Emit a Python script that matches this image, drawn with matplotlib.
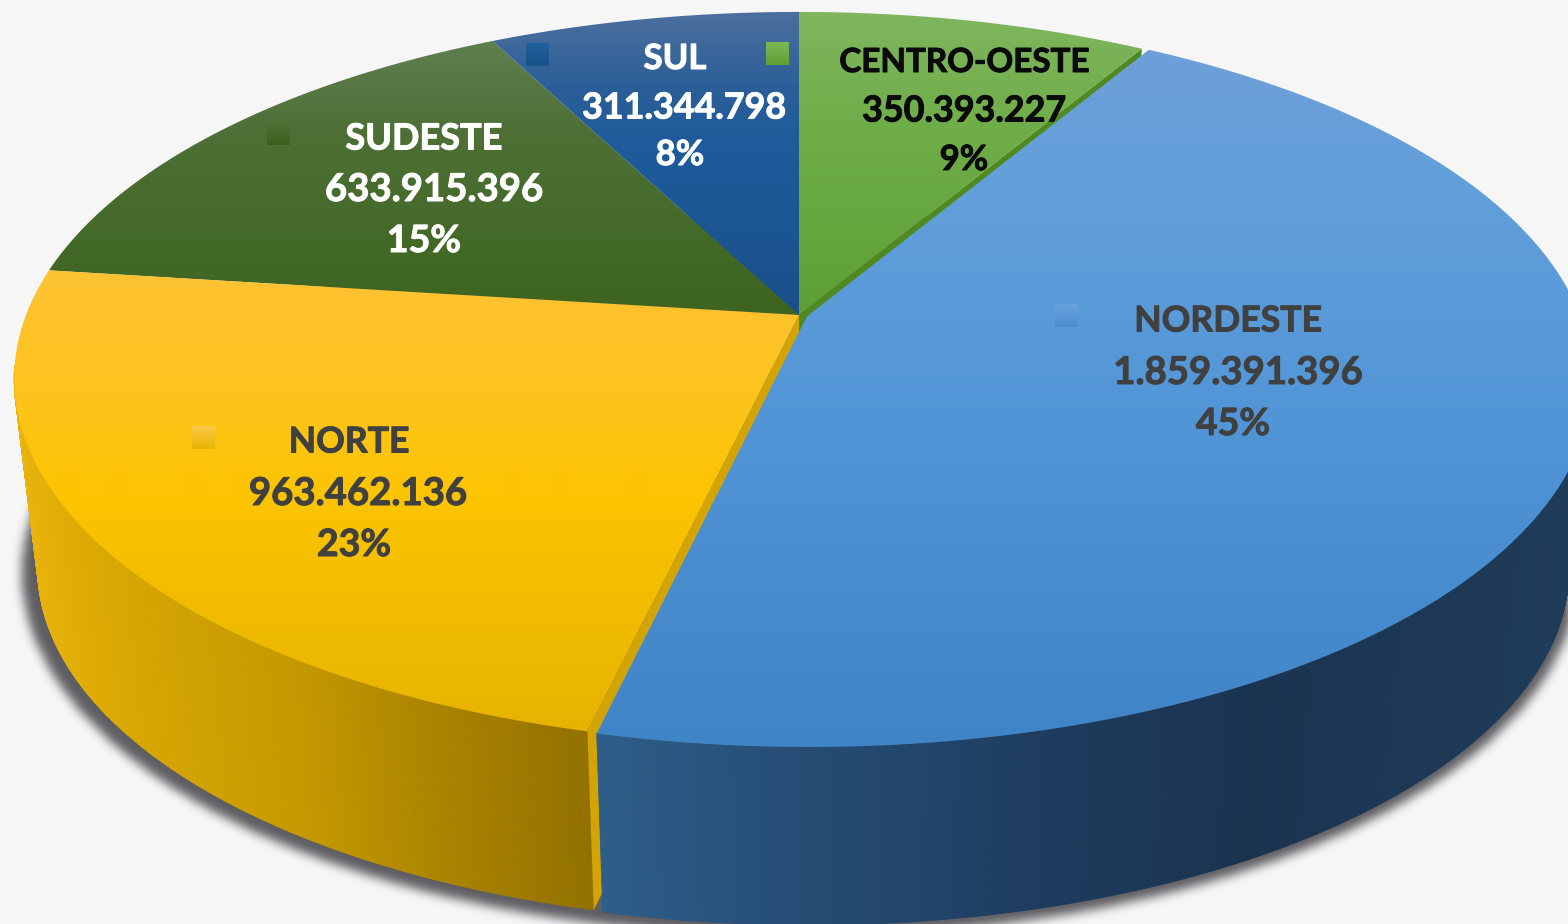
import numpy as np
import matplotlib
matplotlib.use("Agg")
import matplotlib.pyplot as plt
import matplotlib.patheffects as pe
from matplotlib.path import Path
from matplotlib.patches import PathPatch
from matplotlib.collections import PolyCollection
from matplotlib.colors import to_rgb

# ---- data -------------------------------------------------------------
regions = ["CENTRO-OESTE", "NORDESTE", "NORTE", "SUDESTE", "SUL"]
values = [350393227, 1859391396, 963462136, 633915396, 311344798]

# ---- style / layout ---------------------------------------------------
W, H = 1568, 924
APEX = (799.0, 315.0)
A, B, K = 773.0, 355.5, 0.173        # perspective disc
LOW_S, LOW_DY = 0.97, 191.0          # lower rim of the disc
EXPLODE = {"NORDESTE": 0.011}

top_grad = {
    "CENTRO-OESTE": [(12, "#7fb65e"), (120, "#70ae4a"), (315, "#5da034")],
    "NORDESTE": [(50, "#6ea0d8"), (200, "#619fdb"), (450, "#5094d6"), (745, "#3f84c6")],
    "NORTE": [(270, "#fec232"), (400, "#fdc41c"), (500, "#fcc400"), (735, "#e5b300")],
    "SUDESTE": [(42, "#5f7f50"), (130, "#4e7036"), (310, "#3d651f")],
    "SUL": [(12, "#4c6f9e"), (90, "#2a5e98"), (150, "#1d5b9b"), (315, "#1a5089")],
}
wall_grad = {
    "NORDESTE": [(596, "#2d5e8a"), (800, "#264d75"), (1050, "#1e3c5e"), (1250, "#1a3450"), (1570, "#1f3c59")],
    "NORTE": [(14, "#eab40e"), (100, "#dcaa03"), (300, "#c69a00"), (450, "#aa8300"), (590, "#937200")],
}
cut_color = {"CENTRO-OESTE": "#4f8a20", "NORTE": "#d2a406"}
text_color = {"CENTRO-OESTE": "#0a0a0a", "NORDESTE": "#404040", "NORTE": "#404040",
              "SUDESTE": "#ffffff", "SUL": "#ffffff"}
# label rows: (x, y) of name, value, percent
label_pos = {
    "CENTRO-OESTE": [(964, 60), (964, 108), (964, 157)],
    "NORDESTE": [(1228, 318), (1238, 370), (1233, 421)],
    "NORTE": [(349, 439), (358, 491), (354, 542)],
    "SUDESTE": [(424, 136), (434, 187), (424, 238)],
    "SUL": [(675, 56), (684, 105), (680, 152)],
}
label_size = {"CENTRO-OESTE": (23.9, 25.8, 25), "NORDESTE": (25.6, 27.6, 27), "NORTE": (25.6, 27.6, 27),
              "SUDESTE": (26, 27.6, 27), "SUL": (25, 25.8, 25)}
key_pos = {"CENTRO-OESTE": (766, 42), "NORDESTE": (1055, 304), "NORTE": (192, 426),
           "SUDESTE": (267, 122), "SUL": (526, 43)}
key_grad = {
    "CENTRO-OESTE": ["#7db956", "#609f33"],
    "NORDESTE": ["#6ba3df", "#4a8dcf"],
    "NORTE": ["#fdc84a", "#e8b400"],
    "SUDESTE": ["#4f7236", "#3b611e"],
    "SUL": ["#22609e", "#1a5289"],
}

total = sum(values)
cum = np.cumsum([0] + values) / total * 2 * np.pi
spans = {r: (cum[i], cum[i + 1]) for i, r in enumerate(regions)}


def project(theta, radius=1.0, level=0, explode=0.0, mid=0.0):
    """Disc coordinates (clockwise from the top) to canvas coordinates."""
    theta = np.asarray(theta, float)
    u = radius * np.sin(theta) + explode * np.sin(mid)
    v = radius * np.cos(theta) + explode * np.cos(mid)
    w = 1 + K * v
    s = LOW_S if level else 1.0
    dy = LOW_DY if level else 0.0
    return APEX[0] + s * A * u / w, APEX[1] + dy - s * B * v / w


def ramp(stops, n, lo=0):
    pos = [p for p, _ in stops]
    cols = np.array([to_rgb(c) for _, c in stops])
    grid = np.arange(n) + lo + 0.5
    return np.stack([np.interp(grid, pos, cols[:, i]) for i in range(3)], axis=1)


fig = plt.figure(figsize=(W / 100, H / 100), dpi=100, facecolor="#f6f6f7")
ax = fig.add_axes([0, 0, 1, 1])
ax.set_facecolor("#f6f6f7")
ax.axis("off")


def fill_top(verts, stops, z):
    img = ramp(stops, H)[:, None, :]
    im = ax.imshow(img, extent=(0, W, H, 0), aspect="auto", zorder=z, interpolation="bilinear")
    verts = np.asarray(verts)
    codes = [Path.MOVETO] + [Path.LINETO] * (len(verts) - 2) + [Path.CLOSEPOLY]
    patch = PathPatch(Path(verts, codes), transform=ax.transData, fc="none", ec="none")
    ax.add_patch(patch)
    im.set_clip_path(patch)


def wedge_top(region, z):
    a, b = spans[region]
    mid = (a + b) / 2
    ex = EXPLODE.get(region, 0.0)
    t = np.linspace(a, b, 300)
    x, y = project(t, explode=ex, mid=mid)
    ax0, ay0 = project(0.0, radius=0.0, explode=ex, mid=mid)
    verts = np.vstack([[ax0, ay0], np.column_stack([x, y]), [ax0, ay0]])
    fill_top(verts, top_grad[region], z)


def wall(region, a, b, z, n=500):
    mid = sum(spans[region]) / 2
    ex = EXPLODE.get(region, 0.0)
    t = np.linspace(a, b, n)
    xt, yt = project(t, explode=ex, mid=mid)
    xb, yb = project(t, level=1, explode=ex, mid=mid)
    polys, cols = [], []
    g = ramp(wall_grad[region], W + 60)
    for i in range(n - 1):
        polys.append([(xt[i], yt[i]), (xt[i + 1], yt[i + 1]), (xb[i + 1], yb[i + 1]), (xb[i], yb[i])])
        c = int(np.clip((xt[i] + xb[i]) / 2, 0, W + 59))
        cols.append(g[c])
    ax.add_collection(PolyCollection(polys, facecolors=cols, edgecolors=cols, linewidths=0.6, zorder=z))


def cut_face(region, theta, z):
    x0, y0 = project(0.0, radius=0.0)
    x1, y1 = project(theta)
    x2, y2 = project(theta, level=1)
    x3, y3 = project(0.0, radius=0.0, level=1)
    ax.fill([x0, x1, x2, x3], [y0, y1, y2, y3], color=cut_color[region], lw=0, zorder=z)


# soft shadow below the disc
t_all = np.linspace(0, 2 * np.pi, 720)
sx, sy = project(t_all, level=1)
sx = APEX[0] + (sx - APEX[0]) * 1.022
sy = APEX[1] + LOW_DY + (sy - APEX[1] - LOW_DY) * 1.022 + 3
step = 2
gx, gy = np.meshgrid(np.arange(0, W + 2 * step, step), np.arange(0, H + 80, step))
mask = Path(np.column_stack([sx, sy])).contains_points(np.column_stack([gx.ravel(), gy.ravel()]))
mask = mask.reshape(gx.shape).astype(float)
kernel = np.ones(5) / 5
for _ in range(3):
    mask = np.apply_along_axis(lambda r: np.convolve(r, kernel, mode="same"), 0, mask)
    mask = np.apply_along_axis(lambda r: np.convolve(r, kernel, mode="same"), 1, mask)
rgba = np.zeros(mask.shape + (4,))
rgba[..., :3] = to_rgb("#55555a")
rgba[..., 3] = np.clip(mask, 0, 1) * 0.95
ax.imshow(rgba, extent=(0, gx.max() + step, gy.max() + step, 0), aspect="auto", zorder=1,
          interpolation="bilinear")

# walls, cut faces and top faces, back to front
a_n, b_n = spans["NORTE"]
wall("NORTE", a_n, np.radians(262), 2)
cut_face("NORTE", a_n, 3)
cut_face("CENTRO-OESTE", spans["CENTRO-OESTE"][1], 3)
for r in ["CENTRO-OESTE", "SUDESTE", "SUL", "NORTE"]:
    wedge_top(r, 4)
a_d, b_d = spans["NORDESTE"]
wall("NORDESTE", np.radians(97), b_d, 5)
wedge_top("NORDESTE", 6)

# legend keys and labels
for r, v in zip(regions, values):
    kx, ky = key_pos[r]
    img = ramp([(0, key_grad[r][0]), (23, key_grad[r][1])], 23)[:, None, :]
    ax.imshow(img, extent=(kx, kx + 23, ky + 23, ky), aspect="auto", zorder=7, interpolation="bilinear")
    lines = [r, f"{v:,}".replace(",", "."), f"{v / total * 100:.0f}%"]
    for (tx, ty), s, fs in zip(label_pos[r], lines, label_size[r]):
        ax.text(tx, ty, s, ha="center", va="center_baseline", family="Lato", weight="bold",
                fontsize=fs, color=text_color[r], zorder=8,
                path_effects=[pe.withStroke(linewidth=0.7, foreground=text_color[r])])

ax.set_xlim(0, W)
ax.set_ylim(H, 0)
fig.savefig("out.png", dpi=100, facecolor=fig.get_facecolor())
